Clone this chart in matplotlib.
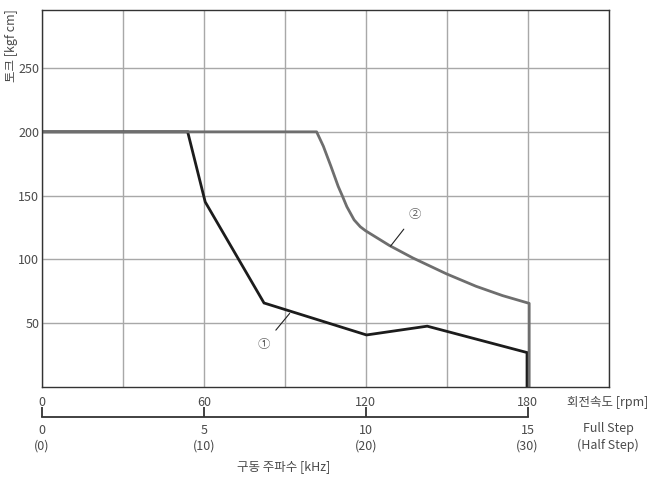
import numpy as np
import matplotlib
matplotlib.use("Agg")
import matplotlib.pyplot as plt

plt.rcParams['font.family'] = ['Noto Sans CJK KR', 'DejaVu Sans']
plt.rcParams['font.weight'] = 'light'

# curve 1 (black) and curve 2 (gray): speed [rpm] vs torque [kgf cm]
rpm_1 = [0.5, 54.0, 60.5, 82.3, 120.3, 142.8, 179.8, 179.8]
torque_1 = [200, 200, 145, 65.7, 40.6, 47.5, 26.8, 0]

rpm_2 = [0.5, 101.8, 104.3, 107.1, 109.8, 111.3, 113.0, 115.7, 118.0, 120.0,
         128.8, 137.4, 150.0, 160.9, 170.7, 180.6, 180.6]
torque_2 = [200, 200, 188.7, 173.0, 157.2, 149.9, 141.3, 130.9, 125.5, 122.3,
            110.8, 101.1, 88.5, 78.8, 71.5, 65.4, 0]

y_ticks = [50, 100, 150, 200, 250]
rpm_ticks = [0, 60, 120, 180]
freq_labels = ["0\n(0)", "5\n(10)", "10\n(20)", "15\n(30)"]

txt_col = '#4a4a4a'
grid_col = '#a8a8a8'
W, H = 651, 478

fig = plt.figure(figsize=(W / 100, H / 100), dpi=100)
ax = fig.add_axes([42 / W, 1 - 386.7 / H, (608.5 - 42) / W, (386.7 - 9.5) / H])

ax.set_xlim(0, 210)
ax.set_ylim(0, 296)
ax.set_xticks(np.arange(0, 211, 30))
ax.set_yticks(y_ticks)
ax.grid(True, color=grid_col, lw=1.0)
ax.set_axisbelow(True)
ax.tick_params(axis='x', length=0, labelbottom=False)
ax.tick_params(axis='y', length=0, pad=2, labelsize=9, labelcolor=txt_col)
for s in ax.spines.values():
    s.set_color('#333333')
    s.set_linewidth(1.0)

ax.plot(rpm_1, torque_1, color='#1c1c1c', lw=2.0, solid_joinstyle='miter')
ax.plot(rpm_2, torque_2, color='#6e6e6e', lw=2.0)

ax.annotate('②', xy=(129.2, 110.3), xytext=(138.4, 135.2), ha='center', va='center',
            fontsize=9, color='#666666',
            arrowprops=dict(arrowstyle='-', color='#222222', lw=0.8, shrinkA=5, shrinkB=0))
ax.annotate('①', xy=(91.8, 57.5), xytext=(82.2, 32.9), ha='center', va='center',
            fontsize=9, color='#666666',
            arrowprops=dict(arrowstyle='-', color='#222222', lw=0.8, shrinkA=5, shrinkB=0))

# secondary scale below the plot (rpm above line, drive frequency below)
ax2 = fig.add_axes([42 / W, 1 - 416.7 / H, (608.5 - 42) / W, 0.01])
ax2.set_xlim(0, 210)
ax2.patch.set_visible(False)
for k in ['top', 'left', 'right']:
    ax2.spines[k].set_visible(False)
ax2.spines['bottom'].set_bounds(0, 180)
ax2.spines['bottom'].set_color('#333333')
ax2.spines['bottom'].set_linewidth(1.3)
ax2.set_yticks([])
ax2.set_xticks(rpm_ticks)
ax2.set_xticklabels(freq_labels, linespacing=1.3)
ax2.tick_params(axis='x', direction='in', length=7, width=1.3, color='#333333',
                pad=5, labelsize=9, labelcolor=txt_col)
for v in rpm_ticks:
    ax2.annotate(str(v), xy=(v, 0), xycoords=ax2.get_xaxis_transform(),
                 xytext=(0, 10), textcoords='offset points',
                 ha='center', va='center', fontsize=9, color=txt_col)

fig.text(607.7 / W, 1 - 402.7 / H, '회전속도 [rpm]', ha='center', va='center',
         fontsize=9, color=txt_col)
fig.text(608.3 / W, 1 - 436.9 / H, 'Full Step\n(Half Step)', ha='center', va='center',
         fontsize=9, color=txt_col, linespacing=1.3)
fig.text(284 / W, 1 - 466.7 / H, '구동 주파수 [kHz]', ha='center', va='center',
         fontsize=9, color=txt_col)
fig.text(12 / W, 1 - 9.5 / H, '토크 [kgf cm]', ha='center', va='top', rotation=90,
         fontsize=9, color=txt_col)

fig.savefig('out.png', dpi=100)
